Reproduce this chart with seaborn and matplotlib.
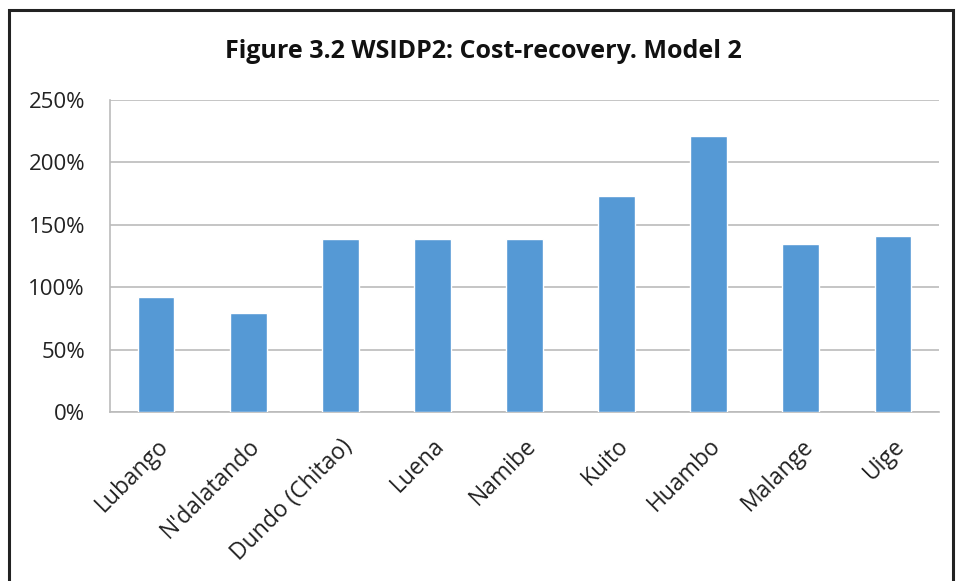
import matplotlib.pyplot as plt
import seaborn as sns
import pandas as pd
from matplotlib.patches import Rectangle
from matplotlib.ticker import FuncFormatter

cities = ["Lubango", "N'dalatando", "Dundo (Chitao)", "Luena", "Namibe",
          "Kuito", "Huambo", "Malange", "Uige"]
cost_recovery = [92, 79, 139, 139, 139, 173, 221, 135, 141]  # percent

df = pd.DataFrame({"city": cities, "value": cost_recovery})

sns.set_style("white")
plt.rcParams["font.family"] = ["Open Sans", "DejaVu Sans"]

fig = plt.figure(figsize=(9.56, 5.81), dpi=100)
ax = fig.add_axes([110 / 956, 1 - 412 / 581, 829 / 956, 312 / 581])

sns.barplot(data=df, x="city", y="value", color="#5599D5", width=0.4,
            saturation=1, ax=ax, zorder=3)

ax.set_ylim(0, 250)
ax.set_yticks(range(0, 251, 50))
ax.yaxis.set_major_formatter(FuncFormatter(lambda v, p: f"{int(v)}%"))
ax.grid(axis="y", color="#BBBBBB", linewidth=1.2, zorder=0)
ax.set_xlabel("")
ax.set_ylabel("")

for side in ["top", "right"]:
    ax.spines[side].set_visible(False)
for side in ["left", "bottom"]:
    ax.spines[side].set_color("#BBBBBB")
    ax.spines[side].set_linewidth(1.2)

ax.tick_params(axis="y", length=0, pad=18, labelsize=16, labelcolor="#222222")
ax.tick_params(axis="x", length=0, pad=16, labelsize=16.5, labelcolor="#222222")
plt.setp(ax.get_xticklabels(), rotation=45, ha="right", rotation_mode="anchor")

fig.text(483 / 956, 1 - 52 / 581, "Figure 3.2 WSIDP2: Cost-recovery. Model 2",
         ha="center", va="center", fontsize=18, fontweight="bold", color="#111111")

fig.patches.append(Rectangle((9 / 956, -0.1), 944 / 956, 1.1 - 10 / 581,
                             transform=fig.transFigure, fill=False,
                             edgecolor="#222222", linewidth=2.2))

plt.savefig("out.png", dpi=100)
